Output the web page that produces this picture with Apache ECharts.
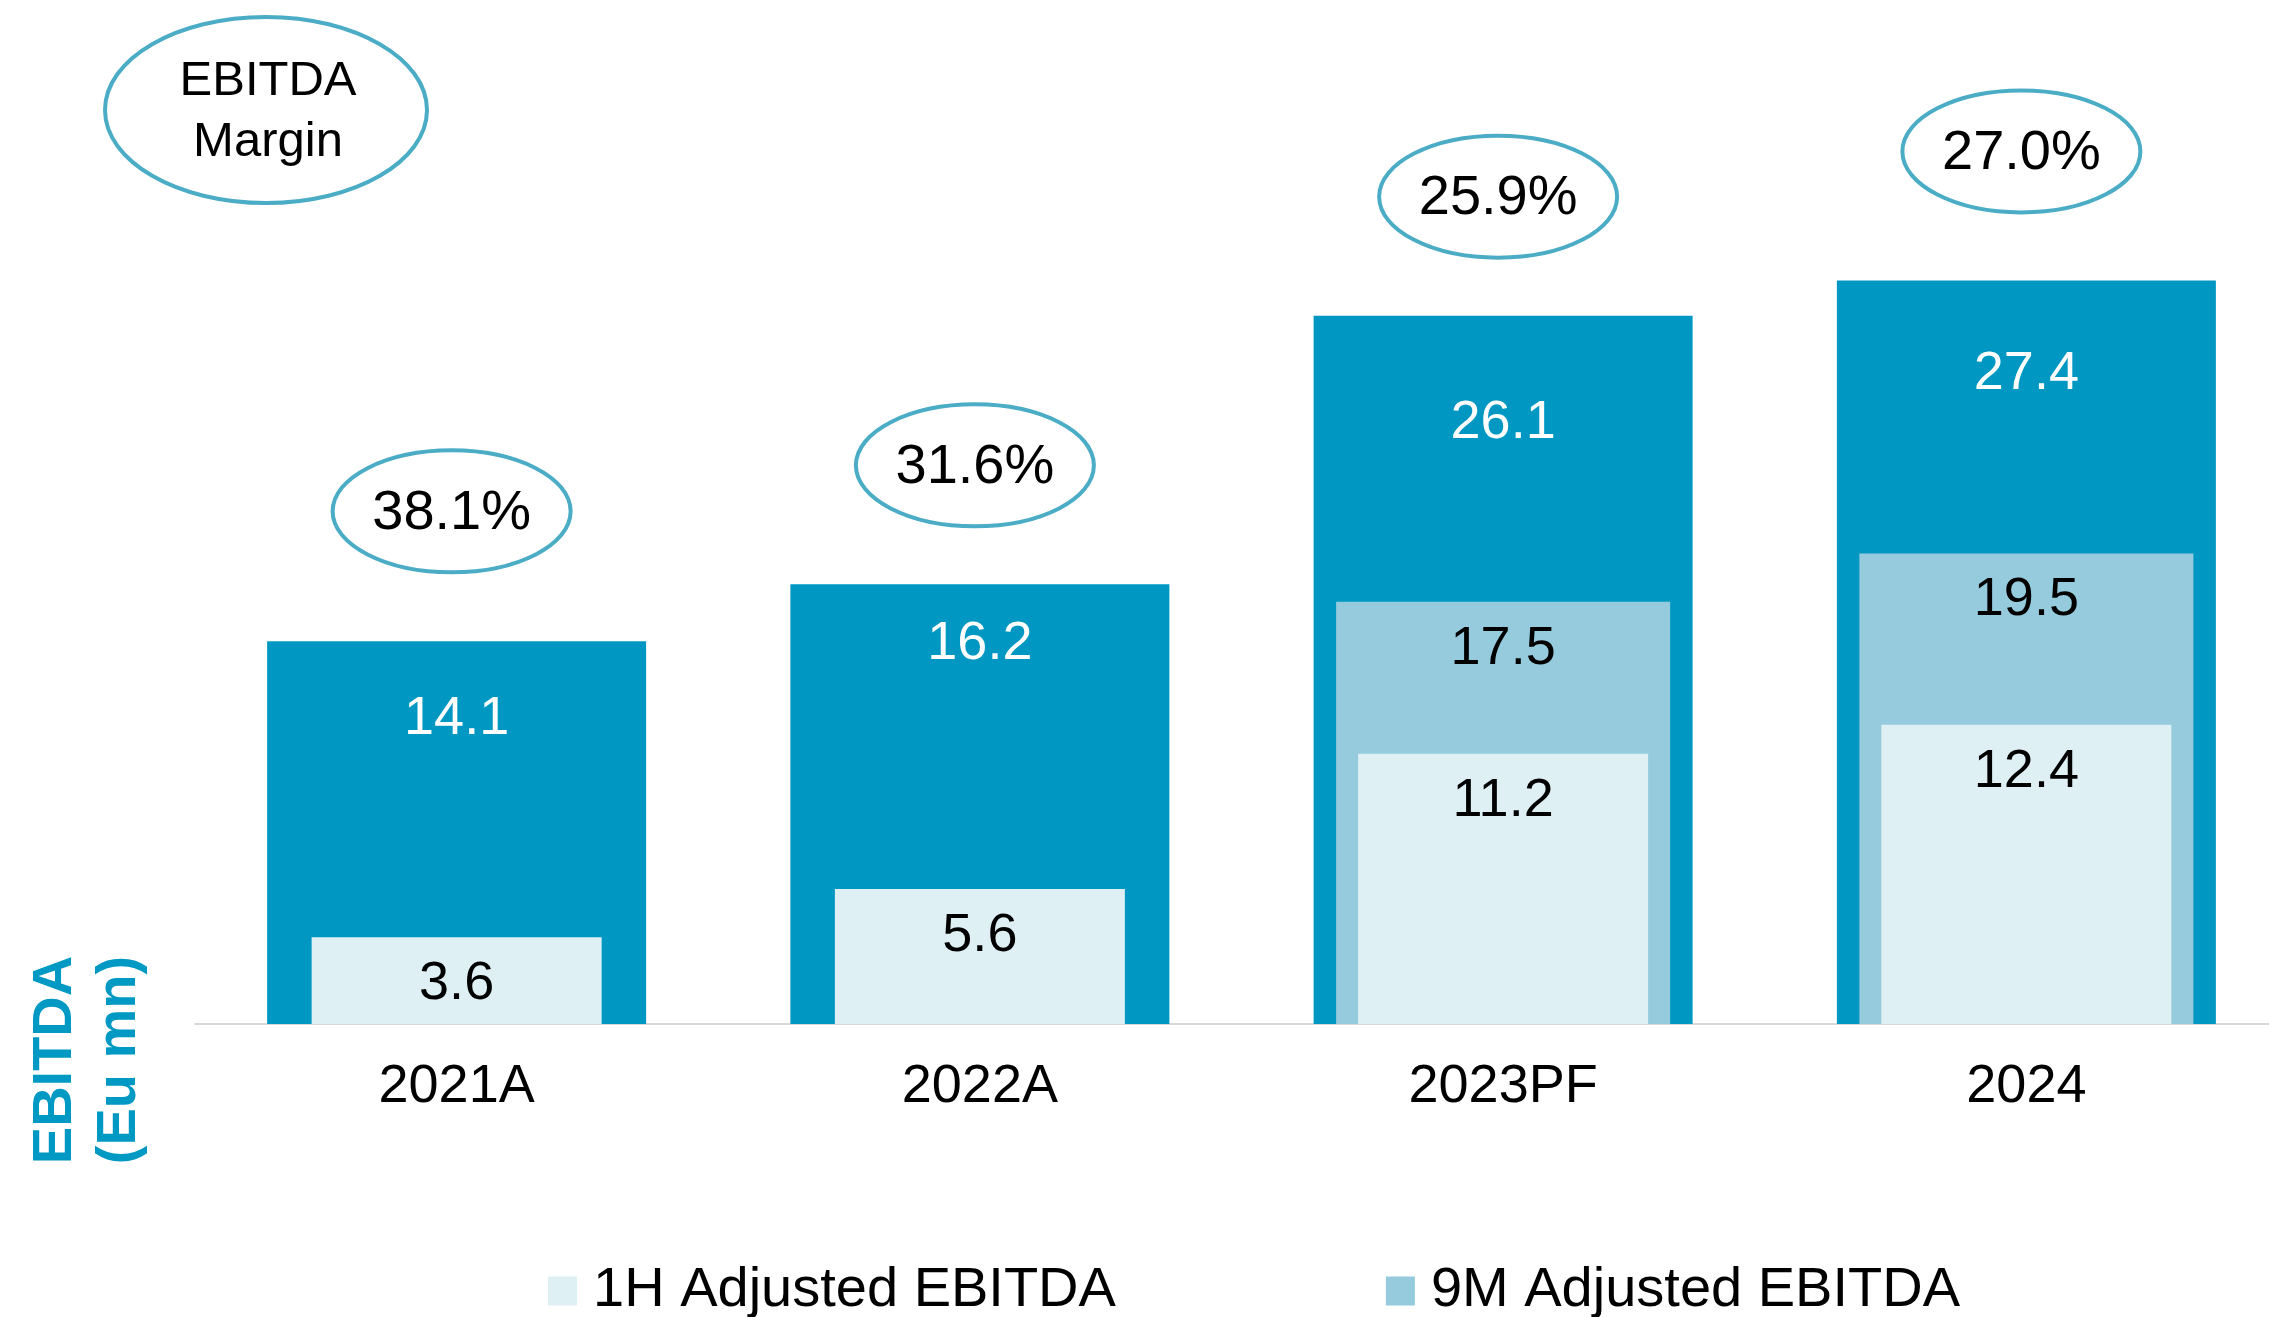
<!DOCTYPE html>
<html>
<head>
<meta charset="utf-8">
<script src="https://cdn.jsdelivr.net/npm/echarts@6/dist/echarts.min.js"></script>
<style>
  html, body { margin: 0; padding: 0; background: #ffffff; overflow: hidden; }
  /* a little wider than the window: the last bar band runs off the right edge */
  #ebitdaChart { width: 2288px; height: 1317px; }
</style>
</head>
<body>
<div id="ebitdaChart"></div>
<script>
// chart values
var years = ["2021A", "2022A", "2023PF", "2024"];
var fullYear = [14.1, 16.2, 26.1, 27.4];
var nineMonths = ["-", "-", 17.5, 19.5];
var firstHalf = [3.6, 5.6, 11.2, 12.4];
var margins = ["38.1%", "31.6%", "25.9%", "27.0%"];

// label placement (pixels), not data
var fullLabelDrop = [51, 33, 80, 67];
var marginLift = [130, 119, 119, 129];

var FONT = "'Liberation Sans', Arial, sans-serif";
var DARK = "#0098c3";
var MID = "#95cbdd";
var LIGHT = "#dff0f5";
var RING = "#4bacc6";

var myChart = echarts.init(document.getElementById("ebitdaChart"));

var option = {
  animation: false,
  textStyle: { fontFamily: FONT },
  grid: { left: 195, top: 47, right: 0, height: 977 },
  legend: {
    data: ["1H Adjusted EBITDA", "9M Adjusted EBITDA"],
    left: 543,
    top: 1258,
    icon: "rect",
    itemWidth: 29,
    itemHeight: 29,
    itemGap: 270,
    selectedMode: false,
    textStyle: { color: "#000", fontSize: 56, fontFamily: FONT, padding: [0, 0, 0, 11] },
  },
  xAxis: [
    {
      type: "category",
      data: years,
      axisLine: { lineStyle: { color: "#d9d9d9", width: 2 } },
      axisTick: { show: false },
      axisLabel: { color: "#000", fontSize: 54, margin: 36, fontFamily: FONT },
    },
    { type: "category", data: years, show: false },
    { type: "category", data: years, show: false },
  ],
  yAxis: [
    { type: "value", min: 0, max: 36, show: false },
    { type: "value", min: 0, max: 40.5, show: false },
  ],
  graphic: [
    {
      type: "ellipse",
      shape: { cx: 266, cy: 110, rx: 161, ry: 93 },
      style: { fill: "#fff", stroke: RING, lineWidth: 4 },
    },
    {
      type: "text",
      x: 268,
      y: 112,
      style: {
        text: "EBITDA\nMargin",
        align: "center",
        verticalAlign: "middle",
        fontSize: 49,
        lineHeight: 61,
        fontFamily: FONT,
        fill: "#000",
      },
    },
    {
      type: "text",
      x: 88,
      y: 1060,
      rotation: Math.PI / 2,
      style: {
        text: "EBITDA\n(Eu mn)",
        align: "center",
        verticalAlign: "middle",
        fontSize: 56,
        lineHeight: 64,
        fontWeight: "bold",
        fontFamily: FONT,
        fill: "#0099c4",
      },
    },
  ],
  series: [
    {
      name: "Adjusted EBITDA",
      type: "bar",
      xAxisIndex: 0,
      yAxisIndex: 0,
      barWidth: 379,
      itemStyle: { color: DARK },
      label: {
        show: true,
        position: "insideTop",
        color: "#fff",
        fontSize: 54,
        fontFamily: FONT,
      },
      data: fullYear.map(function (v, i) {
        return { value: v, label: { distance: fullLabelDrop[i] } };
      }),
    },
    {
      name: "9M Adjusted EBITDA",
      type: "bar",
      xAxisIndex: 1,
      yAxisIndex: 1,
      barWidth: 334,
      itemStyle: { color: MID },
      label: {
        show: true,
        position: "insideTop",
        distance: 20,
        color: "#000",
        fontSize: 54,
        fontFamily: FONT,
      },
      data: nineMonths,
    },
    {
      name: "1H Adjusted EBITDA",
      type: "bar",
      xAxisIndex: 2,
      yAxisIndex: 1,
      barWidth: 290,
      itemStyle: { color: LIGHT },
      label: {
        show: true,
        position: "insideTop",
        distance: 20,
        color: "#000",
        fontSize: 54,
        fontFamily: FONT,
      },
      data: firstHalf,
    },
    {
      // margin bubbles sitting above each full-year bar
      name: "EBITDA Margin",
      type: "custom",
      xAxisIndex: 0,
      yAxisIndex: 0,
      silent: true,
      z: 5,
      renderItem: function (params, api) {
        var pt = api.coord([api.value(0), api.value(1)]);
        var cx = pt[0] - 5;
        var cy = pt[1] - marginLift[params.dataIndex];
        return {
          type: "group",
          children: [
            {
              type: "ellipse",
              shape: { cx: cx, cy: cy, rx: 119, ry: 61 },
              style: { fill: "#fff", stroke: RING, lineWidth: 4 },
            },
            {
              type: "text",
              x: cx,
              y: cy + 2,
              style: {
                text: margins[params.dataIndex],
                align: "center",
                verticalAlign: "middle",
                fontSize: 56,
                fontFamily: FONT,
                fill: "#000",
              },
            },
          ],
        };
      },
      data: fullYear.map(function (v, i) {
        return [i, v];
      }),
    },
  ],
};

myChart.setOption(option);
</script>
</body>
</html>
